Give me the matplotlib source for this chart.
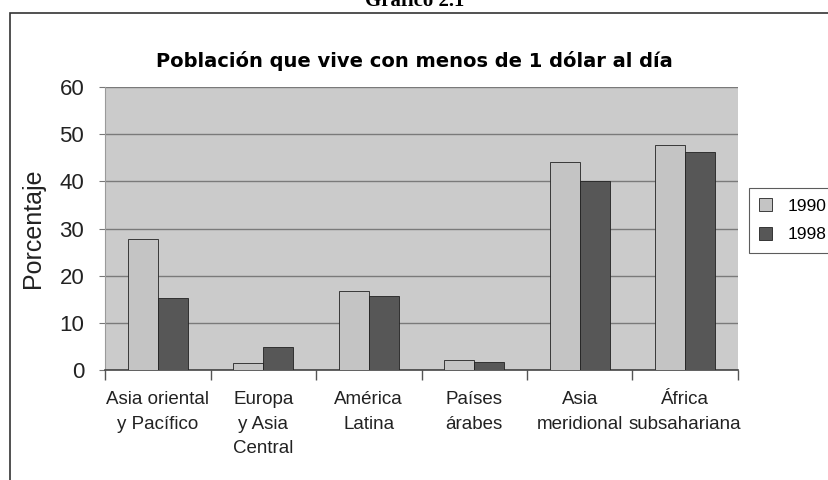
import numpy as np
import matplotlib.pyplot as plt
from matplotlib.patches import Rectangle

plt.rcParams['font.family'] = ['Liberation Sans', 'DejaVu Sans']

# data (percent of population)
regions = ['Asia oriental\ny Pacífico', 'Europa\ny Asia\nCentral', 'América\nLatina',
           'Países\nárabes', 'Asia\nmeridional', 'África\nsubsahariana']
years = ['1990', '1998']
vals_1990 = [27.8, 1.4, 16.7, 2.2, 44.0, 47.7]
vals_1998 = [15.2, 4.9, 15.7, 1.6, 40.1, 46.2]

fig = plt.figure(figsize=(8.29, 4.8), dpi=100)
ax = fig.add_axes([0.1267, 0.2292, 0.7635, 0.5895])
ax.set_facecolor('#cbcbcb')

x = np.arange(len(regions))
w = 0.286
ax.bar(x - w/2, vals_1990, w, color='#c4c4c4', edgecolor='#222222', linewidth=0.6,
       label=years[0], zorder=3)
ax.bar(x + w/2, vals_1998, w, color='#575757', edgecolor='#222222', linewidth=0.6,
       label=years[1], zorder=3)

ax.set_xlim(-0.5, len(regions) - 0.5)
ax.set_ylim(0, 60)
ax.set_yticks(np.arange(0, 61, 10))
ax.yaxis.grid(True, color='#7a7a7a', linewidth=1.0, zorder=1)
ax.set_axisbelow(True)

# category labels at centers, tick marks between categories
ax.set_xticks(x)
ax.set_xticklabels(regions, fontsize=13.5, linespacing=1.6, color='#222222')
ax.tick_params(axis='x', which='major', length=0, pad=15)
ax.set_xticks(np.arange(-0.5, len(regions), 1), minor=True)
ax.tick_params(axis='x', which='minor', length=7, width=1, color='#555555')
ax.tick_params(axis='y', length=4, width=0.8, color='#777777', pad=11,
               labelsize=16, labelcolor='#222222')

for s in ['top', 'right']:
    ax.spines[s].set_visible(False)
ax.spines['left'].set_color('#9a9a9a')
ax.spines['bottom'].set_color('#444444')
ax.spines['bottom'].set_linewidth(1.2)

ax.set_ylabel('Porcentaje', fontsize=18, color='#222222')
ax.yaxis.set_label_coords(-0.095, 0.5)

fig.text(0.5, 0.872, 'Población que vive con menos de 1 dólar al día',
         family='DejaVu Sans', fontweight='bold', fontsize=14, ha='center', va='center')

leg = fig.legend(loc='upper left', bbox_to_anchor=(749/829, 1 - 188/480),
                 fontsize=12.5, frameon=True, fancybox=False, edgecolor='#333333',
                 handlelength=0.75, handleheight=0.75, handletextpad=0.9,
                 borderpad=0.6, labelspacing=0.75, borderaxespad=0)
leg.get_frame().set_linewidth(0.8)

# outer chart border and the cut-off caption above it
fig.patches.append(Rectangle((10/829, -0.1), 1.2, 1.1 - 13/480, transform=fig.transFigure,
                             fill=False, edgecolor='#333333', linewidth=1.2))
fig.text(0.5, 0.998, 'Gráfico 2.1', family='Liberation Serif', fontweight='bold',
         fontsize=15, ha='center', va='center')

fig.savefig('out.png', dpi=100)
